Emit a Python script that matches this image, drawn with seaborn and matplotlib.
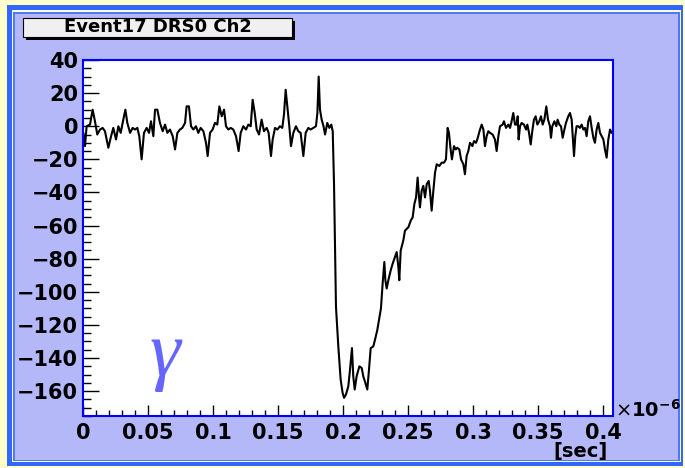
import matplotlib
matplotlib.use("Agg")
import matplotlib.pyplot as plt
import seaborn as sns
import pandas as pd
from matplotlib.patches import Rectangle
from matplotlib.ticker import MultipleLocator

# ---------------- data (time in microseconds, amplitude) ----------------
time_us = [
    0.0003, 0.0015, 0.0028, 0.0054, 0.0074, 0.0092, 0.0110, 0.0131, 0.0151, 0.0169,
    0.0195, 0.0213, 0.0233, 0.0254, 0.0272, 0.0290, 0.0310, 0.0326, 0.0341, 0.0362,
    0.0382, 0.0400, 0.0418, 0.0433, 0.0451, 0.0469, 0.0490, 0.0508, 0.0523, 0.0541,
    0.0554, 0.0572, 0.0592, 0.0613, 0.0631, 0.0649, 0.0669, 0.0690, 0.0708, 0.0726,
    0.0746, 0.0764, 0.0785, 0.0797, 0.0815, 0.0831, 0.0849, 0.0869, 0.0887, 0.0905,
    0.0926, 0.0946, 0.0959, 0.0977, 0.0997, 0.1015, 0.1033, 0.1049, 0.1067, 0.1085,
    0.1100, 0.1118, 0.1136, 0.1156, 0.1177, 0.1197, 0.1213, 0.1233, 0.1254, 0.1272,
    0.1290, 0.1305, 0.1321, 0.1336, 0.1354, 0.1374, 0.1392, 0.1413, 0.1428, 0.1446,
    0.1459, 0.1477, 0.1495, 0.1515, 0.1533, 0.1546, 0.1559, 0.1572, 0.1587, 0.1600,
    0.1618, 0.1638, 0.1656, 0.1674, 0.1695, 0.1713, 0.1733, 0.1751, 0.1772, 0.1792,
    0.1803, 0.1813, 0.1823, 0.1836, 0.1850, 0.1862, 0.1879, 0.1895, 0.1910, 0.1921,
    0.1931, 0.1940, 0.1946, 0.1964, 0.1982, 0.1997, 0.2008, 0.2023, 0.2041, 0.2054,
    0.2069, 0.2079, 0.2090, 0.2105, 0.2126, 0.2144, 0.2156, 0.2172, 0.2187, 0.2200,
    0.2213, 0.2233, 0.2246, 0.2264, 0.2279, 0.2292, 0.2305, 0.2318, 0.2326, 0.2336,
    0.2349, 0.2367, 0.2382, 0.2400, 0.2413, 0.2426, 0.2433, 0.2444, 0.2464, 0.2477,
    0.2503, 0.2521, 0.2536, 0.2549, 0.2562, 0.2574, 0.2585, 0.2592, 0.2605, 0.2618,
    0.2631, 0.2644, 0.2659, 0.2669, 0.2682, 0.2695, 0.2708, 0.2721, 0.2741, 0.2759,
    0.2777, 0.2792, 0.2805, 0.2815, 0.2828, 0.2838, 0.2854, 0.2867, 0.2879, 0.2895,
    0.2908, 0.2926, 0.2938, 0.2951, 0.2964, 0.2977, 0.2995, 0.3008, 0.3023, 0.3033,
    0.3054, 0.3067, 0.3080, 0.3092, 0.3105, 0.3118, 0.3131, 0.3151, 0.3169, 0.3182,
    0.3195, 0.3208, 0.3228, 0.3238, 0.3254, 0.3272, 0.3285, 0.3297, 0.3310, 0.3323,
    0.3336, 0.3344, 0.3351, 0.3362, 0.3374, 0.3392, 0.3408, 0.3418, 0.3431, 0.3444,
    0.3456, 0.3469, 0.3482, 0.3495, 0.3510, 0.3523, 0.3536, 0.3549, 0.3564, 0.3577,
    0.3592, 0.3600, 0.3610, 0.3626, 0.3641, 0.3651, 0.3664, 0.3677, 0.3690, 0.3703,
    0.3715, 0.3733, 0.3746, 0.3759, 0.3767, 0.3777, 0.3787, 0.3797, 0.3810, 0.3823,
    0.3836, 0.3849, 0.3862, 0.3874, 0.3887, 0.3900, 0.3913, 0.3926, 0.3938, 0.3951,
    0.3964, 0.3977, 0.3990, 0.4003, 0.4015, 0.4028, 0.4041, 0.4054, 0.4067,
]
amplitude = [
    -4, -12, 0, 1, 10, 3, -5, -2, -1, -3,
    -13, -7, -1, -8, 0, -4, 4, 10, 2, -4,
    -1, -2, -1, -6, -20, -4, -1, -4, 3, -6,
    10, 10, 2, -3, 1, -4, -2, -6, -14, -4,
    -2, -1, 2, 12, 12, 0, -2, 0, -4, -1,
    -3, -10, -18, -4, -2, 2, 1, 12, 6, 10,
    0, -2, -1, -2, -6, -15, -4, 0, -2, 1,
    0, 16, 8, -2, -5, 4, -3, -1, -4, -18,
    -8, -1, -2, 0, -1, 7, 22, 12, 0, -12,
    -4, 0, -3, -4, -18, -4, -1, -2, -1, 0,
    8, 30, 10, 4, 0, -5, 2, -1, 1, -3,
    -35, -80, -109, -133, -153, -161, -164, -162, -157, -147,
    -134, -151, -159, -151, -145, -146, -151, -155, -159, -147,
    -134, -133, -129, -123, -116, -110, -95, -82, -93, -98,
    -93, -87, -83, -79, -76, -85, -93, -75, -69, -63,
    -61, -57, -55, -47, -43, -31, -43, -49, -39, -36,
    -43, -35, -33, -39, -51, -39, -28, -23, -24, -22,
    -22, -20, -1, -4, -14, -20, -12, -14, -13, -14,
    -20, -23, -29, -18, -15, -10, -12, -9, -10, -8,
    -2, 1, -2, -12, -6, -3, -4, -5, -8, -15,
    -6, 0, 1, 3, -1, 1, -1, 3, 8, 1,
    1, 6, -8, 0, 2, 1, -2, 1, -4, -11,
    -3, 4, 6, 1, 3, 6, 1, 4, 12, 4,
    0, -7, 0, 3, 0, 4, 1, 0, -7, -2,
    2, 6, 8, 4, -6, -18, -6, 0, 0, -1,
    1, -2, -1, -6, 3, 6, -1, -7, -10, -2,
    2, -4, -6, -8, -14, -19, -8, -2, -4,
]

title_text = "Event17 DRS0 Ch2"
x_unit_text = "[sec]"
x_exponent_text = r"$\times\mathbf{10^{-6}}$"
particle_text = "γ"
x_ticks = [0, 0.05, 0.1, 0.15, 0.2, 0.25, 0.3, 0.35, 0.4]
x_tick_labels = ["0", "0.05", "0.1", "0.15", "0.2", "0.25", "0.3", "0.35", "0.4"]
y_ticks = [-160, -140, -120, -100, -80, -60, -40, -20, 0, 20, 40]

df = pd.DataFrame({"t": time_us, "v": amplitude})

sns.set_theme(style="white")
plt.rcParams["font.family"] = ["DejaVu Sans"]

W, H = 685, 468
fig = plt.figure(figsize=(W / 100, H / 100), dpi=100, facecolor="#ffffcc")


def px_rect(x0, y0, x1, y1, **kw):
    r = Rectangle((x0 / W, 1 - y1 / H), (x1 - x0) / W, (y1 - y0) / H,
                  transform=fig.transFigure, **kw)
    fig.add_artist(r)
    return r


# canvas frame (ROOT-like bevel)
px_rect(7, 5, 683, 466, facecolor="#3366ff", edgecolor="none", zorder=-10)
px_rect(12, 10, 681, 462, facecolor="#ffffcc", edgecolor="none", zorder=-9)
px_rect(13, 12, 680, 461, facecolor="#4d79ff", edgecolor="none", zorder=-8)
px_rect(15, 14, 678, 460, facecolor="#b4b8f8", edgecolor="none", zorder=-7)

ax = fig.add_axes([83 / W, 1 - 416 / H, (613 - 83) / W, (416 - 60) / H])
ax.set_facecolor("white")
sns.lineplot(data=df, x="t", y="v", ax=ax, color="black", linewidth=1.5,
             estimator=None, sort=False)

ax.set_xlim(0, 0.4077)
ax.set_ylim(-175, 40)
ax.set_xlabel("")
ax.set_ylabel("")
ax.set_xticks(x_ticks)
ax.set_xticklabels(x_tick_labels)
ax.set_yticks(y_ticks)
ax.xaxis.set_minor_locator(MultipleLocator(0.01))
ax.yaxis.set_minor_locator(MultipleLocator(5))
ax.tick_params(axis="x", which="major", direction="in", length=8, width=1,
               color="black", pad=5, labelsize=15, top=False, bottom=True)
ax.tick_params(axis="x", which="minor", direction="in", length=4, width=1,
               color="black", top=False, bottom=True)
ax.tick_params(axis="y", which="major", direction="in", length=11.5, width=1,
               color="black", pad=3.5, labelsize=15, left=True, right=False)
ax.tick_params(axis="y", which="minor", direction="in", length=5.8, width=1,
               color="black", left=True, right=False)
for lab in ax.get_xticklabels() + ax.get_yticklabels():
    lab.set_fontweight("bold")
    lab.set_color("black")
for sp in ax.spines.values():
    sp.set_color("#0000ff")
    sp.set_linewidth(1.5)
    sp.set_visible(True)

# title box with shadow
px_rect(26, 21, 295, 40, facecolor="black", edgecolor="none", zorder=5)
px_rect(23, 18, 292, 37, facecolor="#f0f0f0", edgecolor="black",
        linewidth=0.8, zorder=6)
fig.text(157.5 / W, 1 - 27.5 / H, title_text, ha="center", va="center",
         fontsize=13, fontweight="bold", color="black", zorder=7)

# axis annotations
fig.text(615 / W, 1 - 410 / H, x_exponent_text, ha="left", va="center",
         fontsize=14, fontweight="bold", color="black")
fig.text(608 / W, 1 - 451 / H, x_unit_text, ha="right", va="center",
         fontsize=14, fontweight="bold", color="black")

# particle label
ax.text(165 / W, 1 - 356 / H, particle_text, transform=fig.transFigure,
        ha="center", va="center", fontsize=56, color="#6666ff",
        family=["Liberation Serif", "DejaVu Serif"], style="italic")

fig.savefig("out.png", dpi=100, facecolor=fig.get_facecolor())
